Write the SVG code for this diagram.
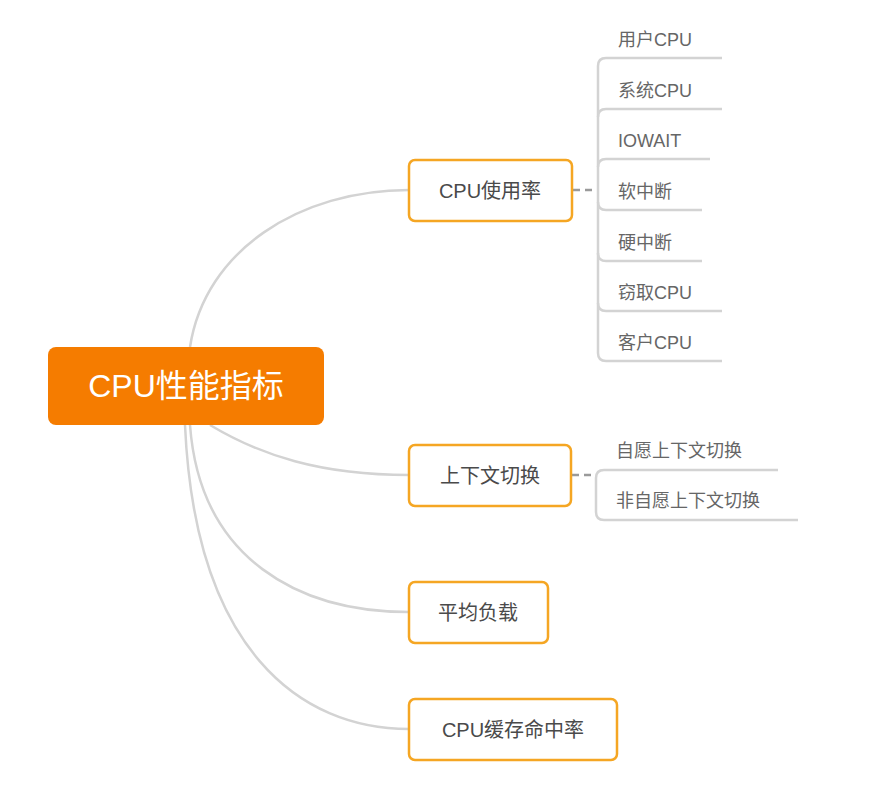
<svg xmlns="http://www.w3.org/2000/svg" width="872" height="786" viewBox="0 0 872 786">
<style>
.c{fill:none;stroke:#d3d3d3;stroke-width:2.5}
.d{fill:none;stroke:#9a9a9a;stroke-width:2.5;stroke-dasharray:7,5}
.n{fill:#fff;stroke:#F5A623;stroke-width:2.5}
.t{font-family:"Liberation Sans","Noto Sans CJK SC",sans-serif;font-size:20px;fill:#4a4a4a}
.l{font-family:"Liberation Sans","Noto Sans CJK SC",sans-serif;font-size:18px;fill:#666}
</style>
<rect width="872" height="786" fill="#fff"/>
<g id="connectors">
<path class="c" d="M190,347 C205,250 300,190 409,190"/>
<path class="c" d="M210,425 C260,455 320,475 409,475"/>
<path class="c" d="M190,425 C200,560 300,612 409,612"/>
<path class="c" d="M185,425 C195,650 300,729 409,729"/>
<path class="d" d="M573,190 H596"/>
<path class="d" d="M572,475 H594"/>
<path class="c" d="M598,66 V353"/>
<path class="c" d="M598,66 Q598,58 606,58 H722"/>
<path class="c" d="M598,117 Q598,109 606,109 H722"/>
<path class="c" d="M598,167 Q598,159 606,159 H710"/>
<path class="c" d="M598,202 Q598,210 606,210 H702"/>
<path class="c" d="M598,253 Q598,261 606,261 H702"/>
<path class="c" d="M598,303 Q598,311 606,311 H722"/>
<path class="c" d="M598,353 Q598,361 606,361 H722"/>
<path class="c" d="M596,478 V512 Q596,520 604,520 H798"/>
<path class="c" d="M596,478 Q596,470 604,470 H778"/>
</g>
<g id="root"><rect x="48" y="347" width="276" height="78" rx="8" fill="#F57C00"/>
<text x="186" y="397" text-anchor="middle" font-family="Liberation Sans,Noto Sans CJK SC,sans-serif" font-size="32" fill="#fff">CPU性能指标</text></g>
<g id="n1"><rect class="n" x="409" y="160" width="163" height="61" rx="6"/><text class="t" x="490" y="198" text-anchor="middle">CPU使用率</text></g>
<g id="n2"><rect class="n" x="409" y="445" width="162" height="61" rx="6"/><text class="t" x="490" y="483" text-anchor="middle">上下文切换</text></g>
<g id="n3"><rect class="n" x="409" y="582" width="139" height="61" rx="6"/><text class="t" x="478" y="620" text-anchor="middle">平均负载</text></g>
<g id="n4"><rect class="n" x="409" y="699" width="208" height="61" rx="6"/><text class="t" x="513" y="737" text-anchor="middle">CPU缓存命中率</text></g>
<g id="l1"><text class="l" x="618" y="46">用户CPU</text></g>
<g id="l2"><text class="l" x="618" y="97">系统CPU</text></g>
<g id="l3"><text class="l" x="618" y="147">IOWAIT</text></g>
<g id="l4"><text class="l" x="618" y="198">软中断</text></g>
<g id="l5"><text class="l" x="618" y="249">硬中断</text></g>
<g id="l6"><text class="l" x="618" y="299">窃取CPU</text></g>
<g id="l7"><text class="l" x="618" y="349">客户CPU</text></g>
<g id="l8"><text class="l" x="616" y="457">自愿上下文切换</text></g>
<g id="l9"><text class="l" x="616" y="507">非自愿上下文切换</text></g>
</svg>
